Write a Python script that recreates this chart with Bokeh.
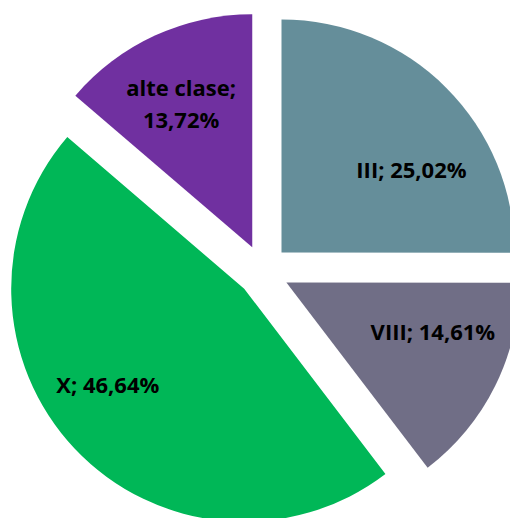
import math
from bokeh.plotting import figure
from bokeh.models import Range1d, ColumnDataSource
from bokeh.core.properties import value
from bokeh.embed import file_html
from bokeh.resources import INLINE

# Data
categories = ["III", "VIII", "X", "alte clase"]
shares = [25.02, 14.61, 46.64, 13.72]
colors = ["#658E9A", "#706E86", "#00B757", "#7030A0"]

# Layout parameters (pixel-like data units)
R = 233.0          # pie radius
EXPLODE = 26.0     # explosion distance
label_dist = [180.0, 180.0, 192.0, 187.0]     # label distance from pie centre
label_angle = [55.5, 109.4, 234.0, 334.0]     # clockwise degrees from 12 o'clock

total = sum(shares)
starts, ends, xs, ys = [], [], [], []
cum = 0.0
for s in shares:
    a1 = cum / total * 360.0
    a2 = (cum + s) / total * 360.0
    mid = math.radians((a1 + a2) / 2)
    xs.append(EXPLODE * math.sin(mid))
    ys.append(EXPLODE * math.cos(mid))
    # bokeh angles: counter-clockwise from +x
    starts.append(math.radians(90 - a2))
    ends.append(math.radians(90 - a1))
    cum += s

src = ColumnDataSource(dict(x=xs, y=ys, start=starts, end=ends, color=colors))

p = figure(width=510, height=518, output_backend="svg", toolbar_location=None,
           x_range=Range1d(-262.6, 247.4), y_range=Range1d(-247.6, 270.4),
           min_border=0)
p.axis.visible = False
p.grid.visible = False
p.outline_line_color = None
p.background_fill_color = "white"

p.wedge(x="x", y="y", radius=R, start_angle="start", end_angle="end",
        fill_color="color", line_color=None, source=src)

def fmt(v):
    return ("%.2f" % v).replace(".", ",") + "%"

texts, lx, ly = [], [], []
for cat, s, dist, ang in zip(categories, shares, label_dist, label_angle):
    sep = "\n" if cat == "alte clase" else " "
    texts.append(cat + ";" + sep + fmt(s))
    a = math.radians(ang)
    lx.append(dist * math.sin(a))
    ly.append(dist * math.cos(a))

p.text(x=lx, y=ly, text=texts, text_align="center", text_baseline="middle",
       text_font=value("Open Sans"), text_font_style="bold", text_font_size="22px",
       text_color="#000000", text_line_height=1.05)

open("out.html", "w").write(file_html(p, INLINE))
